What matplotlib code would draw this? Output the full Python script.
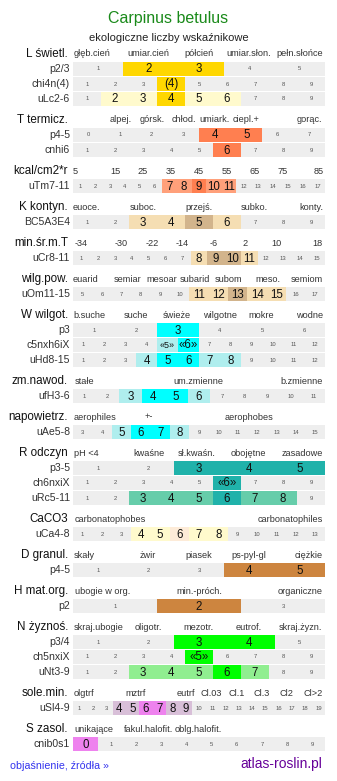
import matplotlib
matplotlib.use("Agg")
import matplotlib.pyplot as plt

plt.rcParams['font.family'] = ['Liberation Sans', 'DejaVu Sans']

# --- data -------------------------------------------------------------
title = "Carpinus betulus"
subtitle = "ekologiczne liczby wskaźnikowe"

headers = ["L świetl.", "T termicz.", "kcal/cm2*r", "K kontyn.", "min.śr.m.T",
           "wilg.pow.", "W wilgot.", "zm.nawod.", "napowietrz.", "R odczyn",
           "CaCO3", "D granul.", "H mat.org.", "N żyznoś.", "sole.min.", "S zasol."]

scale_texts = [
    ["głęb.cień", "umiar.cień", "półcień", "umiar.słon.", "pełn.słońce"],
    ["alpej.", "górsk.", "chłod.", "umiark.", "ciepl.+", "gorąc."],
    ["5", "15", "25", "35", "45", "55", "65", "75", "85"],
    ["euoce.", "suboc.", "przejś.", "subko.", "konty."],
    ["-34", "-30", "-22", "-14", "-6", "2", "10", "18"],
    ["euarid", "semiar", "mesoar", "subarid", "subom", "meso.", "semiom"],
    ["b.suche", "suche", "świeże", "wilgotne", "mokre", "wodne"],
    ["stałe", "um.zmienne", "b.zmienne"],
    ["aerophiles", "+-", "aerophobes"],
    ["pH <4", "kwaśne", "sł.kwaśn.", "obojętne", "zasadowe"],
    ["carbonatophobes", "carbonatophiles"],
    ["skały", "żwir", "piasek", "ps-pyl-gl", "ciężkie"],
    ["ubogie w org.", "min.-próch.", "organiczne"],
    ["skraj.ubogie", "oligotr.", "mezotr.", "eutrof.", "skraj.żyzn."],
    ["olgtrf", "mztrf", "eutrf", "Cl.03", "Cl.1", "Cl.3", "Cl2", "Cl>2"],
    ["unikające", "fakul.halofit.", "oblg.halofit."],
]

# rows: section index, label, first cell, last cell, strong cells, light cells
row_section = [0, 0, 0, 1, 1, 2, 3, 4, 5, 6, 6, 6, 7, 8, 9, 9, 9, 10, 11, 12, 13, 13, 13, 14, 15]
row_labels = ["p2/3", "chi4n(4)", "uLc2-6", "p4-5", "cnhi6", "uTm7-11", "BC5A3E4",
              "uCr8-11", "uOm11-15", "p3", "c5nxh6iX", "uHd8-15", "ufH3-6", "uAe5-8",
              "p3-5", "ch6nxiX", "uRc5-11", "uCa4-8", "p4-5", "p2", "p3/4", "ch5nxiX",
              "uNt3-9", "uSl4-9", "cnib0s1"]
row_first = [1, 1, 1, 0, 1, 1, 1, 1, 5, 1, 1, 1, 1, 3, 1, 1, 1, 1, 1, 1, 1, 1, 1, 1, 0]
row_last = [5, 9, 9, 7, 9, 17, 9, 15, 17, 6, 12, 12, 11, 15, 5, 9, 9, 13, 5, 3, 5, 9, 9, 19, 9]
row_strong = [[2, 3], [4], [4], [4, 5], [6], [9], [5], [9, 10], [13], [3], [6], [5, 6],
              [4, 5], [6, 7], [3, 4, 5], [6], [6], [6], [4, 5], [2], [3, 4], [5], [6],
              [6, 7], [0]]
row_light = [[], [], [2, 3, 5, 6], [], [], [7, 8, 10, 11], [3, 4, 6], [8, 11],
             [11, 12, 14, 15], [], [5], [4, 7, 8], [3, 6], [5, 8], [], [], [3, 4, 5, 7, 8],
             [4, 5, 7, 8], [], [], [], [], [3, 4, 5, 7], [4, 5, 8, 9], []]
row_marks = {"chi4n(4)": {4: "(4)"}, "c5nxh6iX": {5: "«5»", 6: "«6»"},
             "ch6nxiX": {6: "«6»"}, "ch5nxiX": {5: "«5»"}}

# --- styles / layout ----------------------------------------------------
strong_colors = ["#FFD700", "#FF7F50", "#FF7F50", "#D2B48C", "#D2B48C", "#D2B48C",
                 "#00FFFF", "#00FFFF", "#00FFFF", "#20B2AA", "#FDEBD8", "#CD853F",
                 "#CD853F", "#00FF00", "#EE82EE", "#EE82EE"]
light_colors = ["#FFFACD", "#FFA07A", "#FFA07A", "#F5DEB3", "#F5DEB3", "#F5DEB3",
                "#AFEEEE", "#AFEEEE", "#AFEEEE", "#66CDAA", "#FFFACD", "#F5DEB3",
                "#F5DEB3", "#90EE90", "#D8BFD8", "#D8BFD8"]
scale_pos = [
    [(74, "left"), (148, "center"), (199, "center"), (249, "center"), (323, "right")],
    [(120.5, "center"), (151.7, "center"), (183.5, "center"), (214, "center"),
     (246, "center"), (322, "right")],
    [(73, "left"), (115, "center"), (143, "center"), (171, "center"), (199, "center"),
     (227, "center"), (255, "center"), (283, "center"), (324, "right")],
    [(73, "left"), (143, "center"), (199, "center"), (254.5, "center"), (323, "right")],
    [(75, "left"), (121, "center"), (152.3, "center"), (182.3, "center"), (214, "center"),
     (245, "center"), (276, "center"), (322, "right")],
    [(73, "left"), (127.5, "center"), (161.7, "center"), (194.5, "center"),
     (228.3, "center"), (268, "center"), (323, "right")],
    [(73, "left"), (135.8, "center"), (177, "center"), (220.3, "center"),
     (261.7, "center"), (323, "right")],
    [(75, "left"), (198.8, "center"), (323, "right")],
    [(74, "left"), (149, "center"), (248.7, "center")],
    [(74, "left"), (148.8, "center"), (196.7, "center"), (248.3, "center"), (323, "right")],
    [(75, "left"), (322.5, "right")],
    [(74, "left"), (148, "center"), (198.3, "center"), (248.8, "center"), (322.7, "right")],
    [(75, "left"), (199, "center"), (322.7, "right")],
    [(74, "left"), (148.7, "center"), (198.3, "center"), (248.3, "center"), (322.5, "right")],
    [(74, "left"), (135.8, "center"), (185.5, "center"), (210.8, "center"),
     (236.3, "center"), (261.7, "center"), (286.2, "center"), (322.7, "right")],
    [(74, "left"), (148.3, "center"), (198.3, "center")],
]

W, H = 337, 781
GRID_L, GRID_R = 73, 325
ROW_H, PITCH = 14, 15

fig = plt.figure(figsize=(W / 100, H / 100), dpi=100)
ax = fig.add_axes([0, 0, 1, 1])
ax.set_xlim(0, W)
ax.set_ylim(H, 0)
ax.axis("off")

ax.text(168.5, 19, title, ha="center", va="center", fontsize=11.5, color="#1a8a1a")
ax.text(168.5, 38, subtitle, ha="center", va="center", fontsize=8, color="#222222")

top = 62  # top of first row
for s, head in enumerate(headers):
    hy = top - 8
    ax.text(68, hy, head, ha="right", va="center", fontsize=8.4, color="#111111")
    for txt, (px, ha) in zip(scale_texts[s], scale_pos[s]):
        ax.text(px, hy, txt, ha=ha, va="center", fontsize=6.6, color="#333333")

    idx = [i for i, rs in enumerate(row_section) if rs == s]
    for k, i in enumerate(idx):
        yc = top + k * PITCH + ROW_H / 2
        cells = list(range(row_first[i], row_last[i] + 1))
        n = len(cells)
        cw = (GRID_R - GRID_L) / n
        lefts = [GRID_L + j * cw for j in range(n)]
        cols = []
        for c in cells:
            if c in row_strong[i]:
                cols.append(strong_colors[s])
            elif c in row_light[i]:
                cols.append(light_colors[s])
            else:
                cols.append("#EEEEEE")
        ax.barh([yc] * n, [cw] * n, left=lefts, height=ROW_H, color=cols,
                linewidth=0, align="center")
        ax.text(70, yc, row_labels[i], ha="right", va="center", fontsize=7.6,
                color="#333333")
        marks = row_marks.get(row_labels[i], {})
        for j, c in enumerate(cells):
            xc = lefts[j] + cw / 2
            if c in row_strong[i] or c in row_light[i]:
                fs = 8.3
                if c in marks and c in row_light[i]:
                    fs = 6.5
                ax.text(xc, yc + 0.5, marks.get(c, str(c)), ha="center", va="center",
                        fontsize=fs, color="#111111")
            else:
                ax.text(xc, yc, str(c), ha="center", va="center", fontsize=4.2,
                        color="#555555")
    top = top + len(idx) * PITCH + 21

ax.text(10, 766, "objaśnienie, źródła »", ha="left", va="center", fontsize=7.7,
        color="#3333EE")
ax.text(322, 764, "atlas-roslin.pl", ha="right", va="center", fontsize=10,
        color="#660099")

fig.savefig("out.png", dpi=100)
